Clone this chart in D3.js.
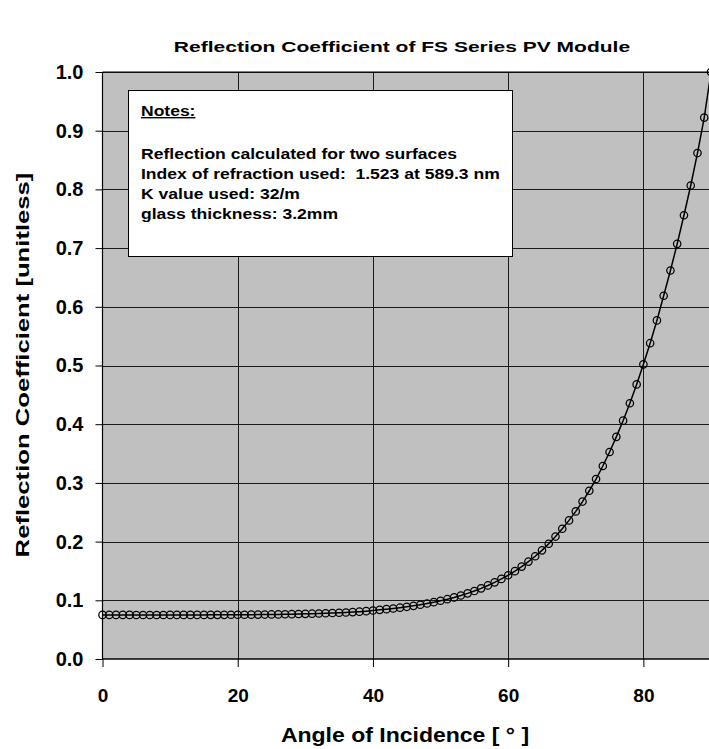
<!DOCTYPE html>
<html>
<head>
<meta charset="utf-8">
<script src="https://cdn.jsdelivr.net/npm/d3@7"></script>
<style>
  html, body { margin: 0; padding: 0; background: #ffffff; }
  svg { display: block; }
  text { font-family: "Liberation Sans", Arial, sans-serif; font-weight: bold; fill: #000; white-space: pre; }
</style>
</head>
<body>
<svg id="chart" width="709" height="749"></svg>
<script>
// ---- data ----
const titleText = "Reflection Coefficient of FS Series PV Module";
const xAxisTitle = "Angle of Incidence [ \u00b0 ]";
const yAxisTitle = "Reflection Coefficient [unitless]";
const xTicks = [0, 20, 40, 60, 80];
const yTicks = [0.0, 0.1, 0.2, 0.3, 0.4, 0.5, 0.6, 0.7, 0.8, 0.9, 1.0];
const notesTitle = "Notes:";
const notesLines = [
  "Reflection calculated for two surfaces",
  "Index of refraction used:  1.523 at 589.3 nm",
  "K value used: 32/m",
  "glass thickness: 3.2mm"
];
// angle of incidence (degrees)
const angles = [
   0,  1,  2,  3,  4,  5,  6,  7,  8,  9,
  10, 11, 12, 13, 14, 15, 16, 17, 18, 19,
  20, 21, 22, 23, 24, 25, 26, 27, 28, 29,
  30, 31, 32, 33, 34, 35, 36, 37, 38, 39,
  40, 41, 42, 43, 44, 45, 46, 47, 48, 49,
  50, 51, 52, 53, 54, 55, 56, 57, 58, 59,
  60, 61, 62, 63, 64, 65, 66, 67, 68, 69,
  70, 71, 72, 73, 74, 75, 76, 77, 78, 79,
  80, 81, 82, 83, 84, 85, 86, 87, 88, 89,
  90
];
// reflection coefficient
const reflection = [
  0.0751, 0.0751, 0.0751, 0.0751, 0.0751, 0.0750, 0.0750, 0.0750, 0.0750, 0.0750,
  0.0751, 0.0751, 0.0751, 0.0751, 0.0751, 0.0751, 0.0752, 0.0752, 0.0752, 0.0753,
  0.0753, 0.0754, 0.0755, 0.0756, 0.0757, 0.0759, 0.0760, 0.0762, 0.0764, 0.0766,
  0.0769, 0.0772, 0.0775, 0.0779, 0.0783, 0.0788, 0.0793, 0.0799, 0.0806, 0.0815,
  0.0826, 0.0837, 0.0849, 0.0861, 0.0874, 0.0889, 0.0906, 0.0925, 0.0946, 0.0968,
  0.0992, 0.1019, 0.1049, 0.1082, 0.1118, 0.1159, 0.1204, 0.1253, 0.1306, 0.1364,
  0.1427, 0.1497, 0.1574, 0.1659, 0.1751, 0.1851, 0.1963, 0.2086, 0.2219, 0.2361,
  0.2514, 0.2682, 0.2866, 0.3066, 0.3288, 0.3526, 0.3785, 0.4060, 0.4357, 0.4678,
  0.5020, 0.5380, 0.5768, 0.6188, 0.6619, 0.7072, 0.7559, 0.8066, 0.8619, 0.9223,
  1.0000
];

// ---- chart ----
const svg = d3.select("#chart");
const W = 709, H = 749;
const plot = { left: 102.5, right: 711, top: 72, bottom: 659 };

const x = d3.scaleLinear().domain([0, 90]).range([plot.left, plot.right]);
const y = d3.scaleLinear().domain([0, 1]).range([plot.bottom, plot.top]);

// horizontal stretch helper (reference glyphs are wider than Liberation Sans)
function stretch(sel, k) {
  sel.each(function () {
    const len = this.getComputedTextLength();
    d3.select(this).attr("textLength", len * k).attr("lengthAdjust", "spacingAndGlyphs");
  });
}

svg.append("rect").attr("x", 0).attr("y", 0).attr("width", W).attr("height", H).attr("fill", "#ffffff");

// plot background
svg.append("rect")
  .attr("x", plot.left).attr("y", plot.top)
  .attr("width", plot.right - plot.left).attr("height", plot.bottom - plot.top)
  .attr("fill", "#c0c0c0");

// gridlines
const grid = svg.append("g").attr("stroke", "#1a1a1a").attr("stroke-width", 1).attr("shape-rendering", "crispEdges");
grid.selectAll("line.h").data(yTicks.filter(d => d > 0)).join("line")
  .attr("x1", plot.left).attr("x2", plot.right)
  .attr("y1", d => Math.round(y(d)) + 0.5).attr("y2", d => Math.round(y(d)) + 0.5);
grid.selectAll("line.v").data(xTicks.filter(d => d > 0)).join("line")
  .attr("y1", plot.top).attr("y2", plot.bottom)
  .attr("x1", d => Math.round(x(d)) + 0.5).attr("x2", d => Math.round(x(d)) + 0.5);

// axes
const yAxis = d3.axisLeft(y).tickValues(yTicks).tickFormat(d3.format(".1f")).tickSize(7).tickPadding(12);
const gy = svg.append("g").attr("transform", `translate(${plot.left},0)`).call(yAxis);
gy.select(".domain").remove();
gy.selectAll("line").attr("stroke", "#000");
gy.selectAll("text").attr("font-size", 20).attr("font-family", "'Liberation Sans', Arial, sans-serif")
  .attr("font-weight", "bold").attr("fill", "#000");

const xAxis = d3.axisBottom(x).tickValues(xTicks).tickFormat(d3.format("d")).tickSize(8).tickPadding(22);
const gx = svg.append("g").attr("transform", `translate(0,${plot.bottom})`).call(xAxis);
gx.select(".domain").remove();
gx.selectAll("line").attr("stroke", "#000");
gx.selectAll("text").attr("font-size", 19).attr("font-family", "'Liberation Sans', Arial, sans-serif")
  .attr("font-weight", "bold").attr("fill", "#000");

// axis lines
svg.append("line").attr("x1", plot.left).attr("x2", plot.left).attr("y1", plot.top).attr("y2", plot.bottom)
  .attr("stroke", "#000").attr("stroke-width", 1.2);
svg.append("line").attr("x1", plot.left).attr("x2", plot.right).attr("y1", plot.bottom).attr("y2", plot.bottom)
  .attr("stroke", "#000").attr("stroke-width", 1.5);
svg.append("line").attr("x1", plot.left).attr("x2", plot.right).attr("y1", plot.top).attr("y2", plot.top)
  .attr("stroke", "#000").attr("stroke-width", 1.2);

// notes box
const nb = { x: 128, y: 90, w: 384, h: 166 };
svg.append("rect").attr("x", nb.x + 0.5).attr("y", nb.y + 0.5).attr("width", nb.w).attr("height", nb.h)
  .attr("fill", "#ffffff").attr("stroke", "#000").attr("stroke-width", 1);
const notesHead = svg.append("text").attr("x", 141).attr("y", 116).attr("font-size", 14)
  .attr("text-decoration", "underline").text(notesTitle);
stretch(notesHead, 1.25);
const notes = svg.selectAll("text.note").data(notesLines).join("text").attr("class", "note")
  .attr("x", 141).attr("y", (d, i) => 159 + i * 20).attr("font-size", 14.5).text(d => d);
stretch(notes, 1.21);

// series
const pts = angles.map((a, i) => [a, reflection[i]]);
svg.append("path").datum(pts)
  .attr("fill", "none").attr("stroke", "#000").attr("stroke-width", 1.5)
  .attr("d", d3.line().x(d => x(d[0])).y(d => y(d[1])));
svg.append("g").selectAll("circle").data(pts).join("circle")
  .attr("cx", d => x(d[0])).attr("cy", d => y(d[1])).attr("r", 3.7)
  .attr("fill", "none").attr("stroke", "#000").attr("stroke-width", 1.25);

// titles
const t = svg.append("text").attr("x", 402).attr("y", 52).attr("text-anchor", "middle")
  .attr("font-size", 15).text(titleText);
stretch(t, 1.4);
const xt = svg.append("text").attr("x", 405).attr("y", 742).attr("text-anchor", "middle")
  .attr("font-size", 20).text(xAxisTitle);
stretch(xt, 1.15);
const yt = svg.append("text").attr("transform", "translate(29,365) rotate(-90)").attr("text-anchor", "middle")
  .attr("font-size", 19).text(yAxisTitle);
stretch(yt, 1.35);
</script>
</body>
</html>
